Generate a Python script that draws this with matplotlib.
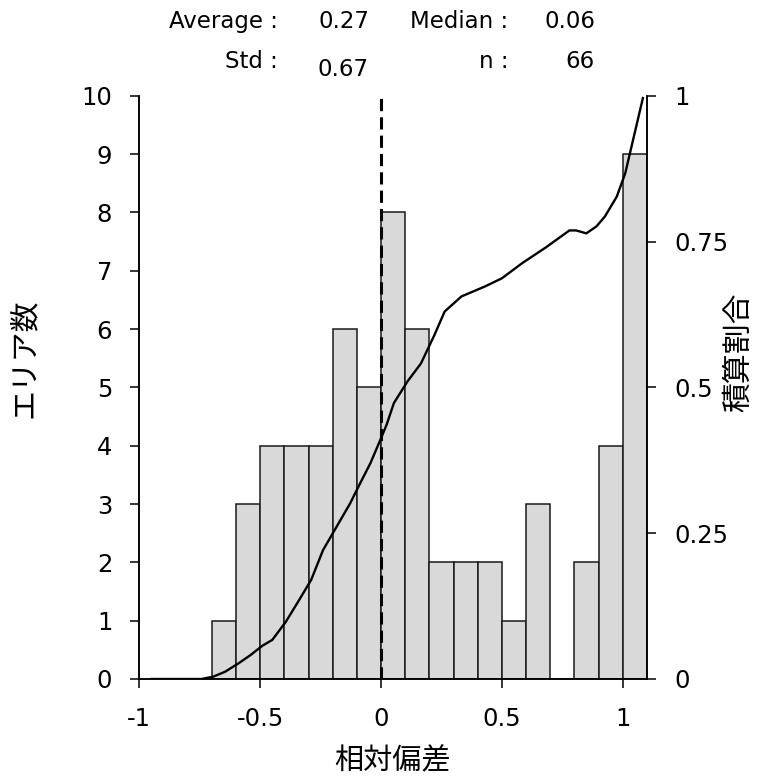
import matplotlib
matplotlib.use('Agg')
import matplotlib.pyplot as plt

plt.rcParams['font.family'] = ['DejaVu Sans', 'Noto Sans CJK JP']
plt.rcParams['axes.unicode_minus'] = False

# histogram bins (width 0.1) and area counts
bin_left = [-0.7, -0.6, -0.5, -0.4, -0.3, -0.2, -0.1, 0.0, 0.1, 0.2,
            0.3, 0.4, 0.5, 0.6, 0.7, 0.8, 0.9, 1.0]
counts = [1, 3, 4, 4, 4, 6, 5, 8, 6, 2, 2, 2, 1, 3, 0, 2, 4, 9]
bin_width = 0.1

# cumulative share curve
cum_x = [-0.95, -0.85, -0.78, -0.743, -0.694, -0.645, -0.589, -0.540, -0.491,
         -0.450, -0.394, -0.338, -0.289, -0.240, -0.184, -0.128, -0.086,
         -0.044, -0.003, 0.023, 0.053, 0.109, 0.165, 0.221, 0.263, 0.333,
         0.430, 0.500, 0.584, 0.682, 0.779, 0.807, 0.849, 0.891, 0.926,
         0.975, 1.010, 1.031, 1.083]
cum_y = [0, 0, 0, 0.0, 0.004, 0.0125, 0.027, 0.041, 0.057,
         0.067, 0.098, 0.136, 0.170, 0.221, 0.261, 0.301, 0.336,
         0.370, 0.410, 0.436, 0.473, 0.510, 0.541, 0.590, 0.630, 0.656,
         0.673, 0.687, 0.713, 0.740, 0.769, 0.769, 0.764, 0.776, 0.793,
         0.827, 0.867, 0.904, 0.996]

ref_x = 0.0

stats_labels = [['Average :', 'Median :'], ['Std :', 'n :']]
stats_values = [['0.27', '0.06'], ['0.67', '66']]

JP = 'Noto Sans CJK JP'

W, H = 757, 780
fig = plt.figure(figsize=(W / 100, H / 100), dpi=100)
ax = fig.add_axes([139.3 / W, 101 / H, 507.7 / W, 583.3 / H])

ax.bar(bin_left, counts, width=bin_width, align='edge',
       color='#d9d9d9', edgecolor='#1a1a1a', linewidth=1.1, zorder=2)
ax.set_xlim(-1, 1.1)
ax.set_ylim(0, 10)
ax.set_xticks([-1, -0.5, 0, 0.5, 1])
ax.set_xticklabels(['-1', '-0.5', '0', '0.5', '1'])
ax.set_yticks(range(0, 11))

ax.axvline(ref_x, ymin=0, ymax=1, color='black', linestyle=(0, (4, 2)),
           linewidth=2.2, zorder=4)

ax2 = ax.twinx()
ax2.plot(cum_x, cum_y, color='black', linewidth=1.7, zorder=5)
ax2.set_ylim(0, 1)
ax2.set_yticks([0, 0.25, 0.5, 0.75, 1])
ax2.set_yticklabels(['0', '0.25', '0.5', '0.75', '1'])

for a in (ax, ax2):
    a.spines['top'].set_visible(False)
    for s in a.spines.values():
        s.set_linewidth(1.1)
ax.tick_params(axis='x', direction='out', length=6.5, width=1.1,
               labelsize=17.5, pad=13.5)
ax.tick_params(axis='y', direction='out', length=6.5, width=1.1,
               labelsize=17.5, pad=13)
ax2.tick_params(axis='y', direction='out', length=6.5, width=1.1,
                labelsize=17.5, pad=13.5)

ax.set_ylabel('エリア数', fontsize=21.5, family=JP)
ax.yaxis.set_label_coords(-0.196, 0.55)
ax2.set_ylabel('積算割合', fontsize=21.5, family=JP)
ax2.yaxis.set_label_coords(1.150, 0.56)
ax.set_xlabel('相対偏差', fontsize=21, family=JP)
ax.xaxis.set_label_coords(0.498, -0.115)

# summary table above the plot
col_right = [[278, 369], [508, 595]]
row_base = [28, 68]
for r in range(2):
    for c in range(2):
        fig.text(col_right[c][0] / W, 1 - row_base[r] / H, stats_labels[r][c],
                 ha='right', va='baseline', fontsize=16.5)
        base = row_base[r] + (8 if (r == 1 and c == 0) else 0)
        fig.text(col_right[c][1] / W, 1 - base / H, stats_values[r][c],
                 ha='right', va='baseline', fontsize=16.5)

fig.savefig('out.png', dpi=100)
